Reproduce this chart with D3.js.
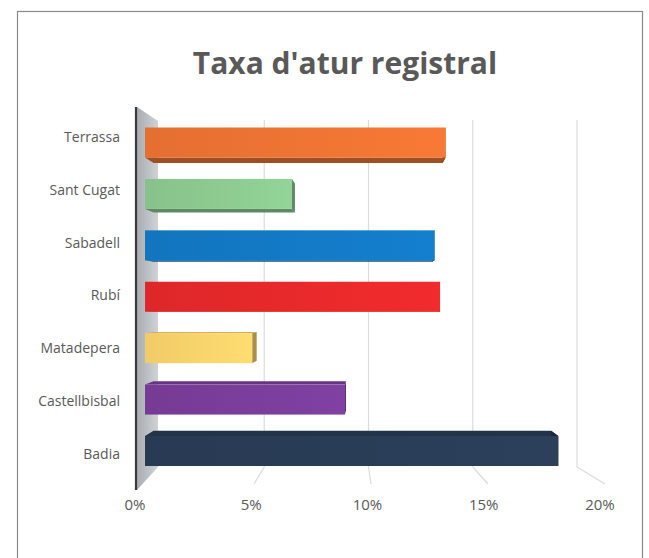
<!DOCTYPE html>
<html><head><meta charset="utf-8">
<script src="https://cdn.jsdelivr.net/npm/d3@7"></script>
<style>body{margin:0;background:#fff}svg{display:block}</style>
</head><body>
<svg id="c" width="649" height="558"></svg>
<script>
const categories = ["Terrassa","Sant Cugat","Sabadell","Rubí","Matadepera","Castellbisbal","Badia"];
const values = [13.6, 6.65, 13.1, 13.35, 4.85, 9.05, 18.7];
const colors = ["#EE7433","#8DCB91","#137AC6","#E8292B","#FCD46C","#7B3E9B","#2A3D57"];
const ticks = [0,5,10,15,20];
const title = "Taxa d'atur registral";

const svg = d3.select("#c");
const font = "'Open Sans', Lato, sans-serif";

// chart border
svg.append("rect").attr("x",17.5).attr("y",11.5).attr("width",625).attr("height",580)
  .attr("fill","#fff").attr("stroke","#8a8a8a").attr("stroke-width",1.2);

// title
svg.append("text").attr("x",345).attr("y",74).attr("text-anchor","middle")
  .attr("font-family",font).attr("font-weight","bold").attr("font-size",30)
  .attr("fill","#595959").text(title);

// scales
const xBack = d3.scaleLinear().domain([0,20]).range([160,577]);
const xFront = d3.scaleLinear().domain([0,20]).range([137,605]);
const xLabel = d3.scaleLinear().domain([0,20]).range([135,600]);
const xBar = d3.scaleLinear().domain([0,20]).range([145,587]);
const yLabel = d3.scalePoint().domain(categories).range([137,454]);
const yBar = d3.scalePoint().domain(categories).range([142.5,451]);
const backTop = 120, backBottom = 467, floorFront = 484;

// left wall
const wg = svg.append("defs").append("linearGradient").attr("id","wall").attr("x1",0).attr("x2",1).attr("y1",0).attr("y2",0);
wg.append("stop").attr("offset","0%").attr("stop-color","#a9adb3");
wg.append("stop").attr("offset","100%").attr("stop-color","#cfd2d6");
svg.append("polygon")
  .attr("points",[[137,107],[158,121],[158,467],[137,490]].map(p=>p.join(",")).join(" "))
  .attr("fill","url(#wall)");
// gridlines on back wall and floor
const g = svg.append("g");
ticks.filter(t=>t>0).forEach(t=>{
  g.append("line").attr("x1",xBack(t)).attr("x2",xBack(t)).attr("y1",backTop).attr("y2",backBottom)
    .attr("stroke","#dcdcdc").attr("stroke-width",1.2);
  g.append("line").attr("x1",xBack(t)).attr("x2",xFront(t)).attr("y1",backBottom).attr("y2",floorFront)
    .attr("stroke","#dcdcdc").attr("stroke-width",1.2);
});
// left axis line
svg.append("line").attr("x1",136).attr("x2",136).attr("y1",107).attr("y2",490)
  .attr("stroke","#3a3a3a").attr("stroke-width",2.2);

// bars (simple perspective)
const vp = [370, 300], k = 0.962, bh = 30;
const back = p => [vp[0] + (p[0]-vp[0])*k, vp[1] + (p[1]-vp[1])*k];
const pts = a => a.map(p=>p.join(",")).join(" ");
categories.forEach((c,i)=>{
  const x0 = xBar(0), x1 = xBar(values[i]);
  const yc = yBar(c), y0 = yc - bh/2, y1 = yc + bh/2;
  const col = d3.color(colors[i]);
  const dark = col.darker(1.1).formatHex();
  const mid = col.darker(0.5).formatHex();
  const bg = svg.append("g");
  if (yc < vp[1]) {
    bg.append("polygon").attr("points",pts([[x0,y1],[x1,y1],back([x1,y1]),back([x0,y1])])).attr("fill",dark);
  } else {
    bg.append("polygon").attr("points",pts([[x0,y0],[x1,y0],back([x1,y0]),back([x0,y0])])).attr("fill",mid);
  }
  bg.append("polygon").attr("points",pts([[x1,y0],[x1,y1],back([x1,y1]),back([x1,y0])])).attr("fill",dark);
  const gid = "gr"+i;
  const lg = svg.append("defs").append("linearGradient").attr("id",gid).attr("x1",0).attr("x2",1).attr("y1",0).attr("y2",0);
  lg.append("stop").attr("offset","0%").attr("stop-color",col.darker(0.12).formatHex());
  lg.append("stop").attr("offset","100%").attr("stop-color",col.brighter(0.12).formatHex());
  bg.append("rect").attr("x",x0).attr("y",y0).attr("width",x1-x0).attr("height",bh).attr("fill",`url(#${gid})`);
});

// category labels
svg.append("g").selectAll("text").data(categories).join("text")
  .attr("x",120).attr("y",d=>yLabel(d)).attr("dy","0.35em").attr("text-anchor","end")
  .attr("font-family",font).attr("font-size",14).attr("fill","#595959").text(d=>d);

// x tick labels
svg.append("g").selectAll("text").data(ticks).join("text")
  .attr("x",d=>xLabel(d)).attr("y",510).attr("text-anchor","middle")
  .attr("font-family",font).attr("font-size",15).attr("fill","#595959").text(d=>d+"%");
</script>
</body></html>
